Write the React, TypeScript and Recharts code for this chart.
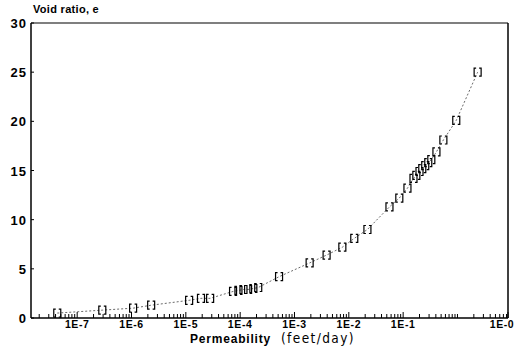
import React from "react";
import { ScatterChart, Scatter, XAxis, YAxis, ReferenceLine } from "recharts";

// Permeability (feet/day)
const permeability = [
  4.3e-8, 2.9e-7, 1.07e-6, 2.3e-6, 1.15e-5, 1.9e-5, 2.8e-5, 7.4e-5, 9.3e-5, 1.15e-4,
  1.4e-4, 1.75e-4, 2.15e-4, 5.2e-4, 1.9e-3, 3.9e-3, 7.6e-3, 1.26e-2, 2.2e-2, 5.6e-2,
  8.5e-2, 0.12, 0.155, 0.175, 0.2, 0.225, 0.255, 0.29, 0.33, 0.41, 0.55, 0.95, 2.35,
];
// Void ratio, e
const voidRatio = [
  0.5, 0.8, 1.0, 1.3, 1.8, 2.0, 2.0, 2.7, 2.8, 2.9,
  2.9, 3.0, 3.1, 4.2, 5.6, 6.4, 7.2, 8.1, 9.0, 11.3,
  12.2, 13.2, 14.2, 14.5, 14.9, 15.2, 15.5, 15.8, 16.1, 16.9, 18.1, 20.1, 25.0,
];

const xMin = Math.pow(10, -7.85);
const xMax = Math.pow(10, 0.93);
const majorTicks = [1e-7, 1e-6, 1e-5, 1e-4, 1e-3, 1e-2, 1e-1, xMax];
const majorLabels = ["1E-7", "1E-6", "1E-5", "1E-4", "1E-3", "1E-2", "1E-1", "1E-0"];
const yTicks = [0, 5, 10, 15, 20, 25, 30];

const minorTicks: number[] = [];
for (let d = -8; d <= 0; d++) {
  for (let m = 1; m <= 9; m++) {
    const v = m * Math.pow(10, d);
    if (v > xMin && v < xMax && !majorTicks.some((t) => Math.abs(t - v) / v < 1e-6)) minorTicks.push(v);
  }
}
const allTicks = [...minorTicks, ...majorTicks].sort((a, b) => a - b);

const data = permeability.map((k, i) => ({ k, e: voidRatio[i] }));

const FONT = "'Liberation Sans', Arial, sans-serif";

const XTick = (props: any) => {
  const { x, y, payload } = props;
  const v = payload.value;
  const idx = majorTicks.findIndex((t) => Math.abs(t - v) / v < 1e-6);
  const isMajor = idx >= 0;
  const last = idx === majorTicks.length - 1;
  return (
    <g>
      <line x1={x} y1={y} x2={x} y2={y - (isMajor ? 6 : 4)} stroke="#000" strokeWidth={1} />
      {isMajor && (
        <text
          x={x + (last ? -6 : 0)}
          y={y + 10}
          textAnchor="middle"
          fontFamily={FONT}
          fontWeight="bold"
          fontSize={10.5}
          letterSpacing={0.6}
          fill="#000"
        >
          {majorLabels[idx]}
        </text>
      )}
    </g>
  );
};

const YTick = (props: any) => {
  const { x, y, payload } = props;
  return (
    <g>
      <line x1={x} y1={y} x2={x + 3} y2={y} stroke="#000" strokeWidth={1} />
      <text
        x={x - 4}
        y={y + 5}
        textAnchor="end"
        fontFamily={FONT}
        fontWeight="bold"
        fontSize={13}
        letterSpacing={1}
        fill="#000"
      >
        {payload.value}
      </text>
    </g>
  );
};

const Bracket = (props: any) => {
  const { cx, cy } = props;
  if (cx == null || cy == null) return null;
  return (
    <path
      d={`M${cx - 1.5},${cy - 4} L${cx - 3.5},${cy - 4} L${cx - 3.5},${cy + 4} L${cx - 1.5},${cy + 4} M${cx + 1.5},${cy - 4} L${cx + 3.5},${cy - 4} L${cx + 3.5},${cy + 4} L${cx + 1.5},${cy + 4}`}
      fill="none"
      stroke="#000"
      strokeWidth={1.2}
    />
  );
};

export default function App() {
  return (
    <div style={{ position: "absolute", left: 0, top: 0, width: 525, height: 351, background: "#fff" }}>
      <ScatterChart width={525} height={351} margin={{ top: 23, right: 17, bottom: 0, left: 0 }}>
        <XAxis
          type="number"
          dataKey="k"
          scale="log"
          domain={[xMin, xMax]}
          allowDataOverflow
          ticks={allTicks}
          interval={0}
          tickSize={0}
          tickMargin={0}
          tick={<XTick />}
          height={33}
          stroke="#000"
          strokeWidth={1.5}
        />
        <YAxis
          type="number"
          dataKey="e"
          domain={[0, 30]}
          ticks={yTicks}
          interval={0}
          tickSize={0}
          tickMargin={0}
          tick={<YTick />}
          width={31}
          stroke="#000"
          strokeWidth={1.5}
        />
        <ReferenceLine y={30} stroke="#000" strokeWidth={1.2} />
        <ReferenceLine x={xMax} stroke="#000" strokeWidth={1.5} />
        <Scatter
          data={data}
          isAnimationActive={false}
          shape={<Bracket />}
          line={{ stroke: "#444", strokeWidth: 0.8, strokeDasharray: "2 2" }}
          lineType="joint"
        />
      </ScatterChart>
      <div
        style={{
          position: "absolute",
          left: 33,
          top: 3,
          fontFamily: FONT,
          fontWeight: "bold",
          fontSize: 11,
          letterSpacing: 0.3,
          whiteSpace: "nowrap",
        }}
      >
        Void ratio, e
      </div>
      <div
        style={{
          position: "absolute",
          left: 190,
          top: 331,
          height: 14,
          lineHeight: "14px",
          whiteSpace: "nowrap",
          color: "#000",
        }}
      >
        <span style={{ fontFamily: FONT, fontWeight: "bold", fontSize: 12, letterSpacing: 0.8 }}>Permeability</span>
        <span
          style={{
            fontFamily: "'DejaVu Sans Condensed', 'Liberation Sans Narrow', sans-serif",
            fontSize: 13.5,
            letterSpacing: 1.4,
            marginLeft: 10,
          }}
        >
          (feet/day)
        </span>
      </div>
    </div>
  );
}
